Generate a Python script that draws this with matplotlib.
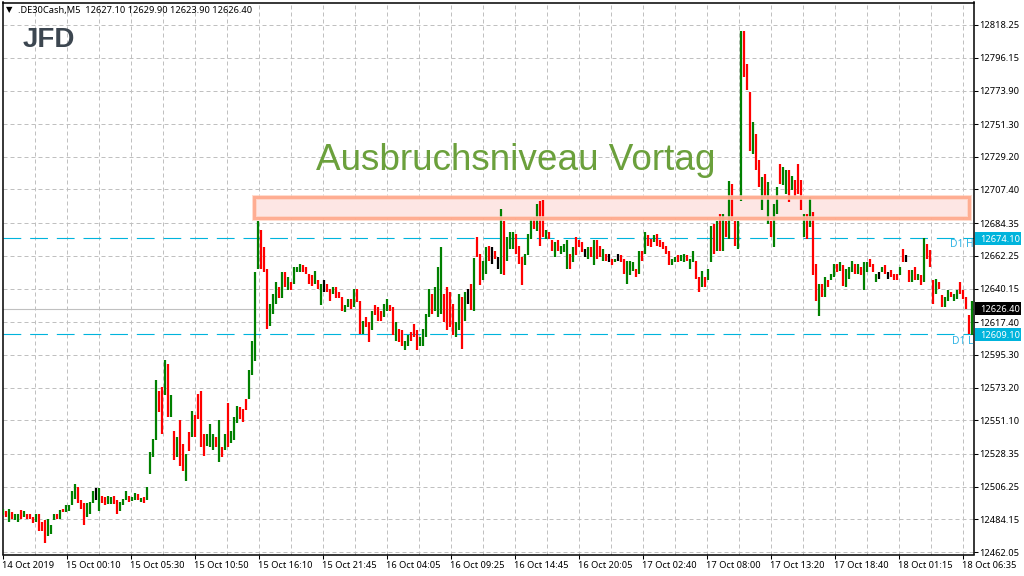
import matplotlib
matplotlib.use("Agg")
import matplotlib.pyplot as plt
from matplotlib.patches import Rectangle
from matplotlib.transforms import ScaledTranslation
import numpy as np

# chart data, one entry every 15 minutes (3 of the 5 min bars)
highs = [
    12491, 12490, 12491, 12489, 12488, 12488, 12490.5, 12490, 12487.5, 12488,
    12485.5, 12488, 12488, 12482, 12483.5, 12484.5, 12480, 12488, 12488, 12490.5,
    12491, 12493.5, 12493.5, 12503.5, 12508, 12506, 12497.5, 12495, 12495, 12496,
    12503.5, 12505, 12505, 12500, 12499.5, 12500, 12499.5, 12500, 12497, 12495.7,
    12498, 12503.5, 12500, 12499, 12501.8, 12501.4, 12498.7, 12499, 12506, 12529.5,
    12538.5, 12578.5, 12571, 12573.5, 12591.5, 12589, 12568, 12544, 12540, 12551,
    12535, 12528.5, 12543, 12557.5, 12554.5, 12569, 12571, 12542, 12542, 12548.5,
    12542, 12539.5, 12551, 12533, 12542, 12563, 12544, 12553, 12561, 12560,
    12559, 12565.5, 12585, 12605,
    12651, 12685.6, 12679.4, 12668, 12653.5, 12630, 12636.6, 12644.4, 12641, 12651,
    12651, 12648, 12644.4, 12654.6, 12655, 12657, 12655.7, 12655, 12650, 12649,
    12652, 12645.6, 12643, 12645.6, 12643, 12640, 12641, 12641, 12637.7, 12634.7,
    12628.7, 12633, 12633, 12640, 12640, 12632, 12618.5, 12621, 12617.4, 12625,
    12628.7, 12627.5, 12625, 12629.8, 12633, 12628.7, 12627.5, 12617.4, 12612.9, 12611.8,
    12605, 12608.4, 12610.6, 12616.3, 12611.8, 12607.3, 12612.9, 12623, 12640, 12636.6,
    12641, 12654.6, 12668, 12636.6, 12641, 12637.7, 12629.8, 12617.4, 12636.6, 12634.3,
    12637.7, 12640, 12643.3, 12661, 12674.9, 12663.6, 12659, 12668, 12669.2, 12668,
    12665.8, 12661.3, 12694, 12686, 12674.9, 12678.2, 12678.2, 12677, 12669.2, 12661.3,
    12663.6, 12677, 12687.2, 12688.4, 12697.4, 12699.6, 12700,
    12679.8, 12678.2, 12673, 12671.5, 12672.6, 12669.2, 12670.4, 12672.6, 12663.6, 12668,
    12674.9, 12672.6, 12671.5, 12667, 12668, 12668, 12672.6, 12672.6, 12669.2, 12667,
    12663.6, 12663.6, 12660.2, 12660.2, 12663.6, 12662.5, 12660.2, 12659, 12659, 12658,
    12653.5, 12665.8, 12665.8, 12678.2, 12676, 12673.7, 12676, 12677, 12672.6, 12671.5,
    12669.2, 12665.8, 12660.2, 12661.3, 12662.5, 12662.5, 12663.6, 12662.5, 12660.2, 12665.8,
    12659, 12647.8, 12652.3, 12647.8, 12653.5, 12682.7, 12683.9, 12686, 12690.6,
    12690.6, 12686, 12713, 12710.9, 12686, 12686, 12814.5, 12814.5, 12792, 12772.9,
    12752.6, 12744.7, 12726.7, 12715.4, 12717.6, 12712, 12686, 12697.4, 12708.6, 12724.4,
    12722.2, 12720, 12720, 12716.5, 12713.2, 12724.4, 12713.2, 12690.6, 12690.6, 12701.9,
    12691.7, 12656.8, 12643.3, 12643.3, 12647.8, 12645.6, 12650, 12656.8, 12656.8, 12657.9,
    12656,
    12653.5, 12654.6, 12659, 12656.8, 12656.8, 12654.6, 12658, 12658, 12660.2, 12656.8,
    12650, 12651.2, 12654.6, 12655.7, 12651.2, 12652.4, 12650, 12650, 12654.6, 12667,
    12662.5, 12652.4, 12652.4, 12654.6, 12650, 12649, 12674.4, 12670.4, 12665.9, 12645.6,
    12646.7, 12644.4, 12635.5, 12634.3, 12638.8, 12637.7, 12636.6, 12638.8, 12644.4, 12638.8,
    12634.3, 12622, 12631.6,
]
lows = [
    12487, 12486, 12482, 12484.5, 12483.5, 12482, 12484.5, 12486, 12484.5, 12484.5,
    12481.5, 12482, 12476.5, 12476.5, 12468, 12473, 12474.5, 12483.5, 12484.5, 12484.5,
    12489, 12489, 12490, 12493.5, 12498, 12495, 12491, 12480, 12486, 12488,
    12495, 12497, 12490, 12495, 12493.5, 12494.6, 12494.6, 12494.6, 12488, 12490,
    12493.5, 12497, 12495.7, 12496.4, 12497, 12497, 12495.7, 12495.3, 12497, 12515,
    12526, 12537.5, 12556.5, 12542, 12568, 12553, 12553, 12524, 12526, 12520.5,
    12517, 12510, 12530.5, 12539.5, 12539.5, 12552, 12533, 12527, 12534, 12533,
    12531, 12533, 12523, 12526, 12531, 12533, 12536, 12537.5, 12549, 12552,
    12550, 12558, 12565.5, 12582,
    12591, 12653.5, 12653.5, 12651, 12613, 12615, 12623, 12630, 12634, 12634,
    12641, 12639, 12639, 12643, 12651, 12651, 12651, 12650, 12643.3, 12642,
    12643, 12640, 12628.7, 12637.7, 12637.7, 12632, 12636.6, 12634, 12634, 12625,
    12624, 12627.5, 12626.4, 12627.5, 12631, 12609.5, 12609.5, 12614, 12604, 12612,
    12622, 12618.5, 12618.5, 12620.8, 12625, 12625, 12608.4, 12605, 12604, 12601.6,
    12598.3, 12601.6, 12605, 12607.3, 12598.3, 12601.6, 12601.6, 12607.3, 12620.8, 12623,
    12625, 12620.8, 12623, 12617.4, 12611.8, 12614, 12608.4, 12607.3, 12611.8, 12599.4,
    12618.5, 12629.8, 12625.3, 12625, 12661.3, 12642.2, 12645.6, 12650, 12659, 12656.8,
    12660.2, 12653.5, 12650, 12649, 12659, 12667, 12667, 12663.6, 12656.8, 12642.2,
    12655.7, 12662.5, 12673.7, 12680.5, 12679.3, 12669.2, 12675,
    12673.7, 12673.7, 12665.8, 12661.3, 12665.8, 12663.6, 12664.7, 12653.5, 12653.5, 12658,
    12662.5, 12668, 12664.7, 12661.3, 12660.2, 12661.3, 12655.7, 12660.2, 12661.3, 12659,
    12659, 12658, 12655.7, 12658, 12659, 12658, 12650, 12643.3, 12649, 12652.3,
    12647.8, 12650, 12659, 12663.6, 12669.2, 12668, 12671.5, 12669.2, 12668, 12667,
    12663.6, 12655.7, 12655.7, 12658, 12658, 12658.6, 12658, 12659, 12653.5, 12658,
    12646.7, 12637.7, 12641, 12641, 12645.6, 12658, 12663.6, 12665.8, 12665.8,
    12665.8, 12675, 12673.7, 12686, 12669.2, 12667, 12699.6, 12783, 12774, 12733.4,
    12731, 12720, 12708.6, 12692.9, 12703, 12684, 12675, 12668, 12690.6, 12710.9,
    12709.8, 12704, 12698.5, 12706.4, 12703, 12704, 12692.9, 12674.9, 12673.7, 12681.6,
    12649, 12632, 12621.9, 12634.3, 12634.3, 12641, 12645.6, 12647.8, 12651.2, 12652.3,
    12642,
    12641, 12646.7, 12651.2, 12650, 12650, 12649, 12638.8, 12651.2, 12654.6, 12651.2,
    12644.4, 12646.7, 12651.2, 12650, 12646.7, 12647.8, 12645.6, 12645.6, 12649, 12658,
    12658, 12644.4, 12644.4, 12645.6, 12645.6, 12642.2, 12644.4, 12660.2, 12654.6, 12629.8,
    12636.6, 12640, 12627.6, 12627.6, 12632, 12634.3, 12632, 12633.2, 12636.6, 12633.2,
    12626.4, 12609.6, 12608.4,
]
# g = up bar, r = down bar, k = doji; rows line up with the lists above
bar_colors = (
    "grgrggrgrr" "rgrrrgggrg" "rggggrrrgg" "gkgrrggrrg" "ggrggrgrgg"
    "ggrrgrgrgr" "rgrgrrrrgg" "grgrgrgggr" "rrgg"
    "ggrrrgggrg" "rgrgggrrrr" "grgkrrgrrr" "ggrgrrgrrg" "rrrggrrgrr"
    "ggrrrggggr" "gggrrrrggr" "gkrgrrggrk" "rkgrgggrrr" "gggrgrr"
    "grrgrgggrg" "rrrkgrgrrg" "rkrgkrrggg" "rgrgrrgrrr" "rrggrggrgg"
    "rrgrggrgr"
    "grgrrggrrr" "grrgrgrggr" "ggrgrrrgrg" "rrgrgrggrg" "r"
    "gggrgrggrr" "gkgrkrrrgr" "krgrgrgrrr" "grrggrggrr" "rrg"
)

time_labels = ["14 Oct 2019", "15 Oct 00:10", "15 Oct 05:30", "15 Oct 10:50",
               "15 Oct 16:10", "15 Oct 21:45", "16 Oct 04:05", "16 Oct 09:25",
               "16 Oct 14:45", "16 Oct 20:05", "17 Oct 02:40", "17 Oct 08:00",
               "17 Oct 13:20", "17 Oct 18:40", "18 Oct 01:15", "18 Oct 06:35"]
price_ticks = [12818.25, 12796.15, 12773.90, 12751.30, 12729.20, 12707.40,
               12684.35, 12662.25, 12640.15, 12617.40, 12595.30, 12573.20,
               12551.10, 12528.35, 12506.25, 12484.15, 12462.05]

d1_high = 12674.10
d1_low = 12609.10
last_price = 12626.40
zone_low = 12687.8
zone_high = 12702.0

W, H = 1024, 576
L_PX, R_PX, T_PX, B_PX = 2.5, 973.5, 2.5, 554.5
CYAN = "#00b4dc"
COLORS = {"g": "#008000", "r": "#ff0000", "k": "#000000"}
UI_FONT = "Noto Sans"
UI_SIZE = 6.7


def price_at(y_px):
    return 12818.25 - (y_px - 25) * 0.6759


def put_text(x_px, y_px, s, **kw):
    return fig.text(x_px / W, 1 - y_px / H, s, **kw)


plt.rcParams["font.family"] = [UI_FONT, "DejaVu Sans"]

fig = plt.figure(figsize=(W / 100, H / 100), dpi=100, facecolor="white")
ax = fig.add_axes([L_PX / W, 1 - B_PX / H, (R_PX - L_PX) / W, (B_PX - T_PX) / H])
ax.set_xlim(0, R_PX - L_PX)
ax.set_ylim(price_at(B_PX), price_at(T_PX))

# grid every 32 bars, labels every 64
ax.set_xticks(0.5 + 64 * np.arange(len(time_labels)))
ax.set_xticklabels(time_labels, ha="left", fontsize=UI_SIZE)
ax.yaxis.tick_right()
ax.set_yticks(price_ticks)
ax.set_yticklabels([f"{p:.2f}" for p in price_ticks], fontsize=UI_SIZE)
ax.tick_params(axis="both", length=3, width=0.75, color="black", pad=1)
ax.tick_params(axis="x", pad=1.5)
shift_left = ScaledTranslation(-1.5 / 100, 0, fig.dpi_scale_trans)
for lab in ax.get_xticklabels():
    lab.set_transform(lab.get_transform() + shift_left)
for spine in ax.spines.values():
    spine.set_linewidth(1.1)
    spine.set_color("black")

for gx in np.arange(32.5, R_PX - L_PX, 32):
    ax.axvline(gx, color="#c0c0c0", lw=0.72, dashes=(4, 3), zorder=1)
for gy in price_ticks:
    ax.axhline(gy, color="#c0c0c0", lw=0.72, dashes=(4, 3), zorder=1)

ax.axhline(last_price, color="#c0c0c0", lw=0.8, zorder=1.5)
ax.axhline(d1_high, color=CYAN, lw=0.8, dashes=(16, 8), zorder=1.6)
ax.axhline(d1_low, color=CYAN, lw=0.8, dashes=(16, 8), zorder=1.6)

# zone fill sits behind the bars, its border on top of them
zone_x = 251.5
zone_w = 715.0
ax.add_patch(Rectangle((zone_x, zone_low), zone_w, zone_high - zone_low,
                       facecolor="#fde6e4", edgecolor="none", zorder=1.2))

bar_x = 3.0 * (np.arange(len(highs)) + 1) - L_PX
for col in COLORS:
    idx = [i for i, c in enumerate(bar_colors) if c == col]
    ax.vlines(bar_x[idx], np.array(lows)[idx], np.array(highs)[idx],
              color=COLORS[col], lw=1.6, zorder=3)

ax.add_patch(Rectangle((zone_x, zone_low), zone_w, zone_high - zone_low, fill=False,
                       edgecolor="#ffd3c2", lw=3.6, alpha=0.75, zorder=4))
ax.add_patch(Rectangle((zone_x, zone_low), zone_w, zone_high - zone_low, fill=False,
                       edgecolor="#ffa688", lw=2.2, alpha=0.85, zorder=4.1))

ax.text(R_PX - L_PX, d1_high - 4.5, "D1 H", color="#33b5e5", fontsize=7.4,
        ha="right", va="center", zorder=5, clip_on=True)
ax.text(R_PX - L_PX, d1_low - 4.5, "D1 L", color="#33b5e5", fontsize=7.4,
        ha="right", va="center", zorder=5, clip_on=True)

# price tags on the right axis
tag_tr = ax.get_yaxis_transform()
for price, bg in [(d1_high, CYAN), (d1_low, CYAN), (last_price, "black")]:
    ax.add_patch(Rectangle((1.0015, price - 4.4), 46 / (R_PX - L_PX), 8.8, transform=tag_tr,
                           facecolor=bg, edgecolor="none", clip_on=False, zorder=6))
    ax.text(1.0068, price, f"{price:.2f}", transform=tag_tr, color="white", fontsize=UI_SIZE,
            ha="left", va="center_baseline", clip_on=False, zorder=7)

put_text(18, 10, ".DE30Cash,M5  12627.10 12629.90 12623.90 12626.40", fontsize=UI_SIZE,
         color="black", va="center", ha="left")
put_text(6, 10, "▼", fontsize=6, color="black", va="center", ha="left")
put_text(23, 47, "JFD", fontsize=20, fontweight="bold", color="#3c4650",
         family="Liberation Sans", va="baseline", ha="left", zorder=8)
put_text(316, 170, "Ausbruchsniveau Vortag", fontsize=26.6, color="#6ba03c",
         family="Liberation Sans", va="baseline", ha="left", zorder=8)

fig.savefig("out.png", dpi=100)
